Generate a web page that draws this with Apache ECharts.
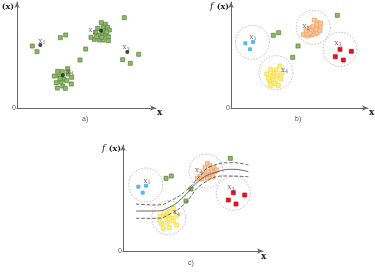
<!DOCTYPE html>
<html>
<head>
<meta charset="utf-8">
<script src="https://cdn.jsdelivr.net/npm/echarts@6/dist/echarts.min.js"></script>
<style>
  html, body { margin: 0; padding: 0; background: #fff; }
  #main { width: 375px; height: 274px; }
</style>
</head>
<body>
<div id="main"></div>
<script>
var dom = document.getElementById("main");
var myChart = echarts.init(dom, null, {renderer: 'canvas'});

// ---- panel a) raw points (one class, green) and cluster centres
var aGreen = [
  [15.3, 62], [20, 56.3], [43.3, 70.3], [48.7, 73], [68.7, 59], [63, 48],
  [107.3, 90.3], [121.7, 53.7], [105.7, 48.3], [113.3, 44.7],
  [84.3, 85.3], [88.3, 83.7], [80.7, 79.7], [86, 80.3], [90.3, 80.7], [92.3, 78],
  [78.7, 75.7], [81.7, 73], [86.3, 74.7], [89, 73], [91.3, 71.3], [91.3, 67.3],
  [86.3, 68], [82.3, 68], [77.3, 68.7], [74, 70.7], [84.7, 70.7], [87, 77],
  [89.7, 76], [79.7, 71.3],
  [50.7, 39.3], [45.3, 36.3], [40.7, 36.7], [37.3, 32], [42.3, 32], [47, 28.7],
  [51, 34], [54.7, 30.7], [54.3, 24], [49.7, 27.3], [44, 26.3], [39.3, 25.3],
  [45.7, 22], [48.3, 19.7], [40.3, 20], [43, 29.3], [51, 36.3]
];
var aCentres = [[23.3, 63], [84, 77.3], [110.3, 56], [46, 32.7]];
var aLabels = [[25, 67, '1'], [75, 77.5, '2'], [109, 60.5, '3'], [53, 36, '4']];

// ---- panel b) clustered
var bBlue = [[14.3, 64.7], [22, 66], [19, 58.7]];
var bGreen = [[42.3, 72.7], [47.7, 75.3], [67, 62], [61.7, 50.7], [106.3, 92.7]];
var bRed = [[109, 58.7], [120.3, 56.7], [104.3, 51.3], [112.3, 48]];
var bOrange = [
  [83.3, 88], [87.3, 85.3], [89, 81.3], [85.7, 83.3], [81.7, 81.3], [78.3, 79.7],
  [75, 77.3], [72.3, 73.3], [76.3, 72], [80.7, 73], [84, 74], [86.3, 75.3],
  [89, 77.3], [80.7, 77.3], [85, 78.7], [79, 74.7], [89.7, 84.7]
];
var bYellow = [
  [49, 42], [45, 38], [39.7, 38.7], [35.7, 34], [41, 32.7], [46.3, 32], [42.3, 28],
  [38.3, 27.3], [49.7, 29.3], [44.3, 24.7], [39.7, 22.7], [47.3, 22.7],
  [43, 34.7], [37.3, 30], [50.7, 34.7]
];
var bCircles = [[21.3, 65.7], [82.3, 80.7], [109, 58.7], [45, 35.3]];
var bLabels = [[22, 71, '1'], [75, 81.5, '2'], [107, 65, '3'], [53.5, 38, '4']];

// ---- panel c) clustered with regression band
var cBlue = [[15.3, 64.3], [23, 65.3], [19.7, 58.3]];
var cGreen = [[43, 72.7], [48.3, 75], [68, 62], [63, 50], [107.3, 92.7]];
var cRed = [[110.3, 58.3], [121.7, 56], [105.3, 51], [113, 47]];
var cOrange = [
  [84.3, 87.7], [87, 85.3], [82, 83.3], [88.7, 82], [91, 83.3], [85.3, 79.3],
  [80.3, 77.7], [77, 74.3], [74.3, 72.7], [78.7, 72], [83, 75.3], [87.7, 76.7],
  [92, 79.3], [89.7, 74.3], [84.3, 72.7], [93.7, 81]
];
var cYellow = [
  [50.3, 42.7], [46.3, 39.3], [41, 37.7], [37, 34.3], [43, 34.3], [48.7, 32.7],
  [53.7, 35.3], [38.7, 27.7], [44.3, 28.7], [50.3, 30], [40.3, 22.7], [46.3, 23.3],
  [53.7, 26], [36.3, 31], [45.3, 36]
];
var cCircles = [[22.7, 66], [83, 80], [110.3, 57.7], [45.7, 33.3]];
var cLabels = [[24, 70, '1'], [75.5, 81, '2'], [108, 63.5, '3'], [53.5, 38.5, '4']];
var cMid = [[13, 40], [32, 40], [47, 44], [60.3, 54], [77, 71], [93.7, 79], [110.3, 81.7], [125.3, 79.3]];
var cUpper = [[13, 47], [33.7, 46], [49, 51], [63.7, 61], [77, 75], [87, 84.3], [110.3, 88.3], [125.3, 86]];
var cLower = [[13, 32.7], [33.7, 32.7], [47, 37], [60.3, 46], [80.3, 67.7], [103.7, 75], [125.3, 74.3]];

var grids = [
  {left: 17, top: 2, width: 139, height: 106},
  {left: 231, top: 2, width: 137, height: 106},
  {left: 123, top: 145, width: 140, height: 106}
];

function axis(i, max) {
  return {
    type: 'value', gridIndex: i, min: 0, max: max,
    axisLine: {show: true, onZero: false, symbol: ['none', 'arrow'], symbolSize: [4, 6],
      lineStyle: {color: '#666', width: 1}},
    axisTick: {show: false}, axisLabel: {show: false}, splitLine: {show: false}
  };
}

function squares(i, data, fill, border) {
  return {
    type: 'scatter', xAxisIndex: i, yAxisIndex: i, data: data,
    symbol: 'rect', symbolSize: 4, silent: true,
    itemStyle: {color: fill, borderColor: border, borderWidth: 0.8, opacity: 1}
  };
}

function circles(i, data) {
  return {
    type: 'scatter', xAxisIndex: i, yAxisIndex: i, data: data,
    symbol: 'circle', symbolSize: 34, silent: true, z: 1,
    itemStyle: {color: 'rgba(0,0,0,0)', borderColor: '#999', borderWidth: 0.8, borderType: [1.5, 1.5]}
  };
}

function labels(i, data) {
  return {
    type: 'scatter', xAxisIndex: i, yAxisIndex: i, data: data,
    symbolSize: 0, silent: true, z: 5,
    label: {
      show: true, position: 'inside',
      formatter: function (p) { return '{x|x}{s|' + p.data[2] + '}'; },
      rich: {
        x: {fontFamily: 'DejaVu Serif', fontSize: 7, color: '#444'},
        s: {fontFamily: 'DejaVu Serif', fontSize: 5, color: '#444', padding: [4, 0, 0, 0]}
      }
    }
  };
}

function curve(i, data, type) {
  return {
    type: 'line', xAxisIndex: i, yAxisIndex: i, data: data, smooth: true,
    showSymbol: false, silent: true, z: 3,
    lineStyle: {color: '#555', width: 0.9, type: type}
  };
}

var green = ['#93b86c', '#5d8a3c'];
var orange = ['#f9c79c', '#f0a46c'];
var yellow = ['#fff07e', '#f2dc4a'];
var blue = ['#2aa9e0', '#2aa9e0'];
var red = ['#d9151e', '#d9151e'];

function titles(x0, y0, ox, oy, px, py, name, nx, ny) {
  return [
    {type: 'text', left: x0, top: y0, style: {
      text: '{i|f} {b|(x)}', rich: {
        i: {fontFamily: 'DejaVu Serif', fontStyle: 'italic', fontSize: 9, fill: '#222'},
        b: {fontFamily: 'DejaVu Serif', fontWeight: 'bold', fontSize: 8, fill: '#222'}
      }}},
    {type: 'text', left: ox, top: oy, style: {text: '0', font: '7px Liberation Sans', fill: '#555'}},
    {type: 'text', left: px, top: py, style: {text: 'x', font: 'bold 9px DejaVu Serif', fill: '#222'}},
    {type: 'text', left: nx, top: ny, style: {text: name, font: '7px Liberation Sans', fill: '#555'}}
  ];
}

var option = {
  animation: false,
  grid: grids,
  xAxis: [axis(0, 139), axis(1, 137), axis(2, 140)],
  yAxis: [axis(0, 106), axis(1, 106), axis(2, 106)],
  graphic: [].concat(
    titles(-5, 1, 12, 105, 157, 108, 'a)', 82, 116),
    titles(210, 1, 226, 105, 369, 108, 'b)', 295, 116),
    titles(102, 143, 118, 248, 261, 252, 'c)', 188, 260)
  ),
  series: [
    squares(0, aGreen, green[0], green[1]),
    {type: 'scatter', xAxisIndex: 0, yAxisIndex: 0, data: aCentres, symbol: 'circle',
      symbolSize: 4, z: 4, silent: true, itemStyle: {color: '#111'}},
    labels(0, aLabels),

    circles(1, bCircles),
    squares(1, bGreen, green[0], green[1]),
    squares(1, bOrange, orange[0], orange[1]),
    squares(1, bYellow, yellow[0], yellow[1]),
    squares(1, bRed, red[0], red[1]),
    {type: 'scatter', xAxisIndex: 1, yAxisIndex: 1, data: bBlue, symbol: 'roundRect',
      symbolSize: 4, silent: true, itemStyle: {color: blue[0]}},
    labels(1, bLabels),

    circles(2, cCircles),
    curve(2, cUpper, 'dashed'),
    curve(2, cMid, 'solid'),
    curve(2, cLower, 'dashed'),
    squares(2, cGreen, green[0], green[1]),
    squares(2, cOrange, orange[0], orange[1]),
    squares(2, cYellow, yellow[0], yellow[1]),
    squares(2, cRed, red[0], red[1]),
    {type: 'scatter', xAxisIndex: 2, yAxisIndex: 2, data: cBlue, symbol: 'roundRect',
      symbolSize: 4, silent: true, itemStyle: {color: blue[0]}},
    labels(2, cLabels)
  ]
};

myChart.setOption(option);
</script>
</body>
</html>
